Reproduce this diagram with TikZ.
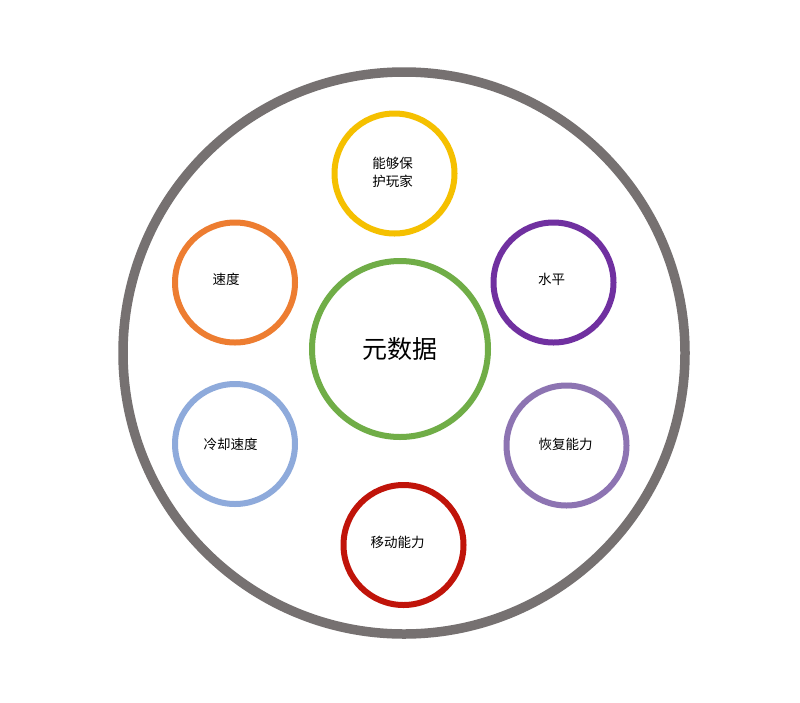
\documentclass[tikz,border=0pt]{standalone}
\usepackage{fontspec}
\setmainfont{Noto Sans CJK SC}
\begin{document}
\begin{tikzpicture}[x=1pt,y=-1pt,
  ring/.style={circle,draw=#1,line width=6pt,minimum size=120pt,inner sep=0pt,text=black,font=\fontsize{13.5}{18}\selectfont,align=center},
  lbl/.style={text=black,font=\fontsize{13.5}{18}\selectfont,align=center,inner sep=0pt}]
\definecolor{cgray}{RGB}{118,113,113}
\definecolor{cgreen}{RGB}{112,173,71}
\definecolor{cyellow}{RGB}{245,192,0}
\definecolor{corange}{RGB}{237,125,49}
\definecolor{cpurple}{RGB}{112,48,160}
\definecolor{cblue}{RGB}{142,170,219}
\definecolor{clpurple}{RGB}{141,116,178}
\definecolor{cred}{RGB}{192,20,10}
\useasboundingbox (0,0) rectangle (800,702);
\fill[white] (0,0) rectangle (800,702);
\node[circle,draw=cgray,line width=9.5pt,minimum size=562pt,inner sep=0pt] (outer) at (404,353) {};
\node[ring=cgreen,minimum size=176pt,font=\fontsize{25}{30}\selectfont] (center) at (400,349) {元数据};
\node[ring=cyellow] (protect) at (394.5,173.5) {};
\node[lbl] (protectt) at (392.5,172.5) {能够保\\护玩家};
\node[ring=corange] (speed) at (235,282.5) {};
\node[lbl] (speedt) at (226,279.5) {速度};
\node[ring=cpurple] (level) at (553.5,282.5) {};
\node[lbl] (levelt) at (551.5,279.5) {水平};
\node[ring=cblue] (cool) at (235,444) {};
\node[lbl] (coolt) at (230.5,444) {冷却速度};
\node[ring=clpurple] (recover) at (566.5,445.5) {};
\node[lbl] (recovert) at (565.5,444) {恢复能力};
\node[ring=cred] (move) at (403.5,545) {};
\node[lbl] (movet) at (397.5,542.5) {移动能力};
\end{tikzpicture}
\end{document}
